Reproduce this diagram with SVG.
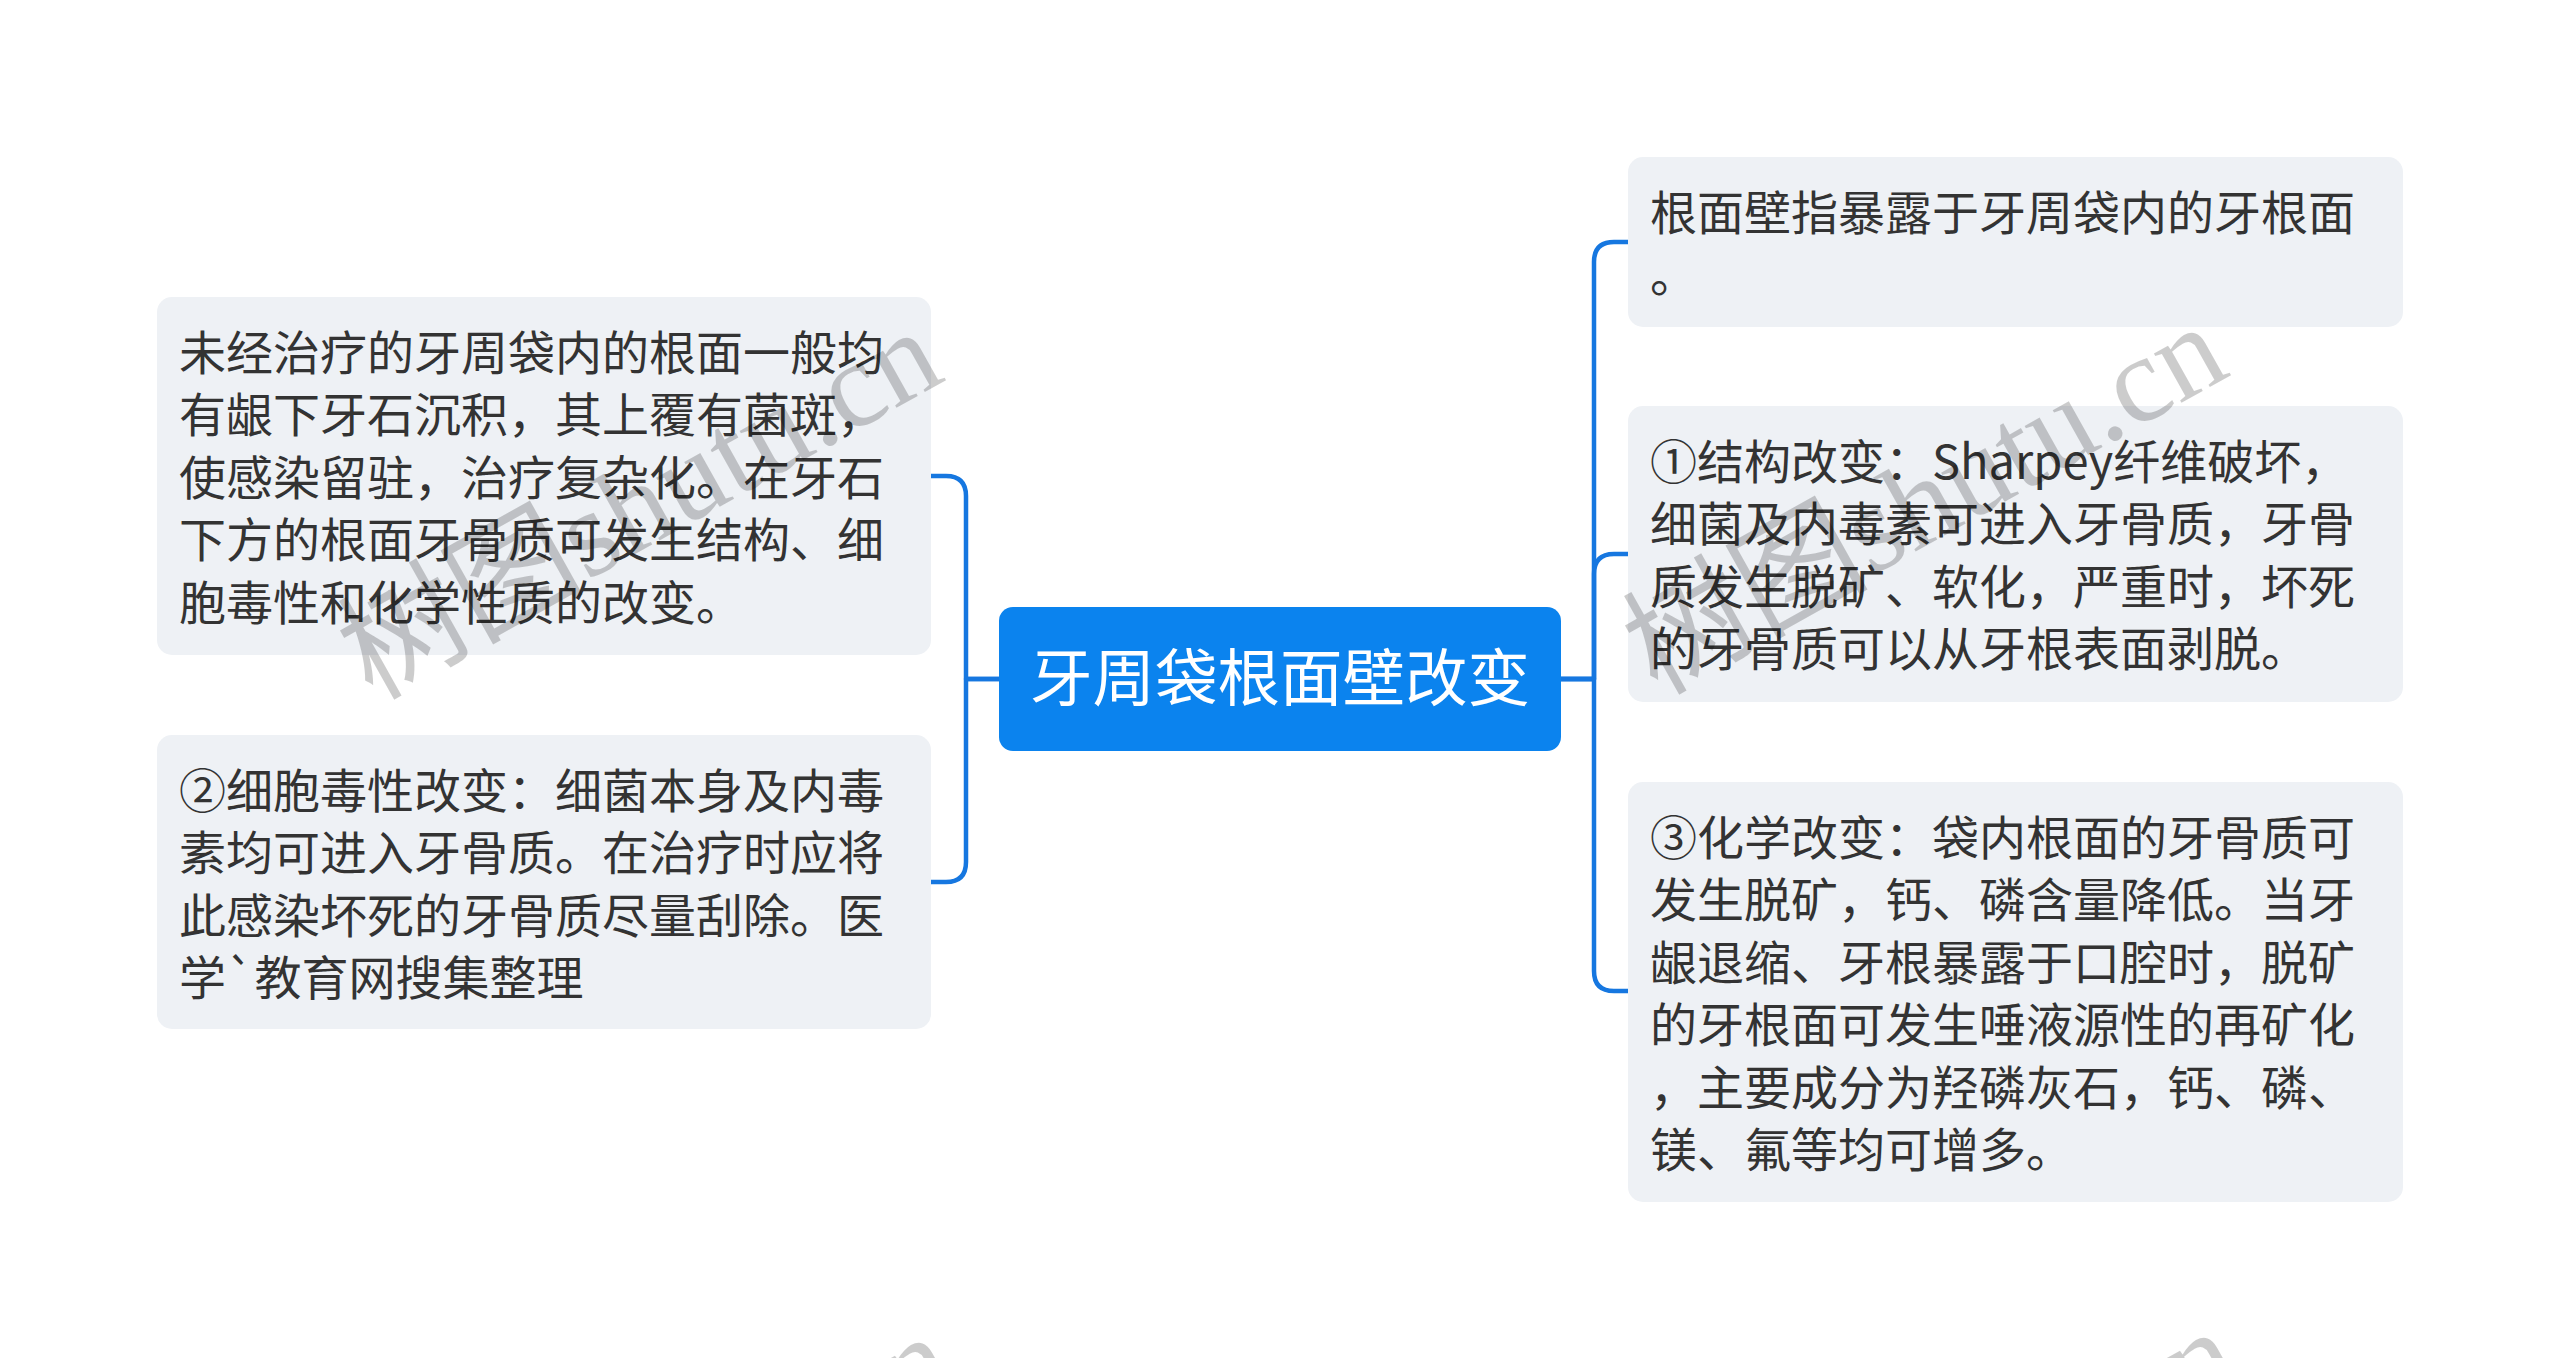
<svg xmlns="http://www.w3.org/2000/svg" width="2560" height="1358" viewBox="0 0 2560 1358">
  <style>
    .box { fill: #eef1f5; }
    .t { font-family: "Noto Sans CJK SC", "Noto Sans", sans-serif; font-size: 47px; fill: #333333; }
    .root-t { font-family: "Noto Sans CJK SC", "Noto Sans", sans-serif; font-size: 62.5px; fill: #ffffff; }
    .conn { fill: none; stroke: #1677e0; stroke-width: 4.5; stroke-linecap: round; stroke-linejoin: round; }
    .wm { font-family: "Liberation Serif", "Noto Sans CJK SC", serif; font-size: 123px; fill: #000000; fill-opacity: 0.2; }
  </style>
  <rect width="2560" height="1358" fill="#ffffff"/>

  <g id="connectors">
    <path class="conn" d="M999,679 H966 V496 Q966,476 946,476 H931"/>
    <path class="conn" d="M999,679 H966 V862 Q966,882 946,882 H931"/>
    <path class="conn" d="M1561,679 H1594 V262 Q1594,242 1614,242 H1628"/>
    <path class="conn" d="M1561,679 H1594 V574 Q1594,554 1614,554 H1628"/>
    <path class="conn" d="M1561,679 H1594 V971 Q1594,991 1614,991 H1628"/>
  </g>

  <g id="root">
    <rect x="999" y="607" width="562" height="144" rx="14" fill="#0b83ee"/>
    <text class="root-t" x="1280" y="701" text-anchor="middle">牙周袋根面壁改变</text>
  </g>

  <g id="node-left-1">
    <rect class="box" x="157" y="297" width="774" height="358" rx="15"/>
    <text class="t" x="179">
      <tspan x="179" y="369.5">未经治疗的牙周袋内的根面一般均</tspan>
      <tspan x="179" y="432">有龈下牙石沉积，其上覆有菌斑，</tspan>
      <tspan x="179" y="494.5">使感染留驻，治疗复杂化。在牙石</tspan>
      <tspan x="179" y="557">下方的根面牙骨质可发生结构、细</tspan>
      <tspan x="179" y="619.5">胞毒性和化学性质的改变。</tspan>
    </text>
  </g>

  <g id="node-left-2">
    <rect class="box" x="157" y="735" width="774" height="294" rx="15"/>
    <text class="t" x="179">
      <tspan x="179" y="807.5">②细胞毒性改变：细菌本身及内毒</tspan>
      <tspan x="179" y="870">素均可进入牙骨质。在治疗时应将</tspan>
      <tspan x="179" y="932.5">此感染坏死的牙骨质尽量刮除。医</tspan>
      <tspan x="179" y="995">学`教育网搜集整理</tspan>
    </text>
  </g>

  <g id="node-right-1">
    <rect class="box" x="1628" y="157" width="775" height="170" rx="15"/>
    <text class="t" x="1650">
      <tspan x="1650" y="229.5">根面壁指暴露于牙周袋内的牙根面</tspan>
      <tspan x="1650" y="292">。</tspan>
    </text>
  </g>

  <g id="node-right-2">
    <rect class="box" x="1628" y="406" width="775" height="296" rx="15"/>
    <text class="t" x="1650">
      <tspan x="1650" y="478.5">①结构改变：Sharpey纤维破坏，</tspan>
      <tspan x="1650" y="541">细菌及内毒素可进入牙骨质，牙骨</tspan>
      <tspan x="1650" y="603.5">质发生脱矿、软化，严重时，坏死</tspan>
      <tspan x="1650" y="666">的牙骨质可以从牙根表面剥脱。</tspan>
    </text>
  </g>

  <g id="node-right-3">
    <rect class="box" x="1628" y="782" width="775" height="420" rx="15"/>
    <text class="t" x="1650">
      <tspan x="1650" y="854.5">③化学改变：袋内根面的牙骨质可</tspan>
      <tspan x="1650" y="917">发生脱矿，钙、磷含量降低。当牙</tspan>
      <tspan x="1650" y="979.5">龈退缩、牙根暴露于口腔时，脱矿</tspan>
      <tspan x="1650" y="1042">的牙根面可发生唾液源性的再矿化</tspan>
      <tspan x="1650" y="1104.5">，主要成分为羟磷灰石，钙、磷、</tspan>
      <tspan x="1650" y="1167">镁、氟等均可增多。</tspan>
    </text>
  </g>

  <g id="watermarks">
    <text class="wm" transform="translate(372,701) rotate(-29.2)">树图shutu.cn</text>
    <text class="wm" transform="translate(1657,696) rotate(-29.2)">树图shutu.cn</text>
    <text class="wm" transform="translate(384,1706) rotate(-29.2)">树图shutu.cn</text>
    <text class="wm" transform="translate(1669,1701) rotate(-29.2)">树图shutu.cn</text>
  </g>
</svg>
